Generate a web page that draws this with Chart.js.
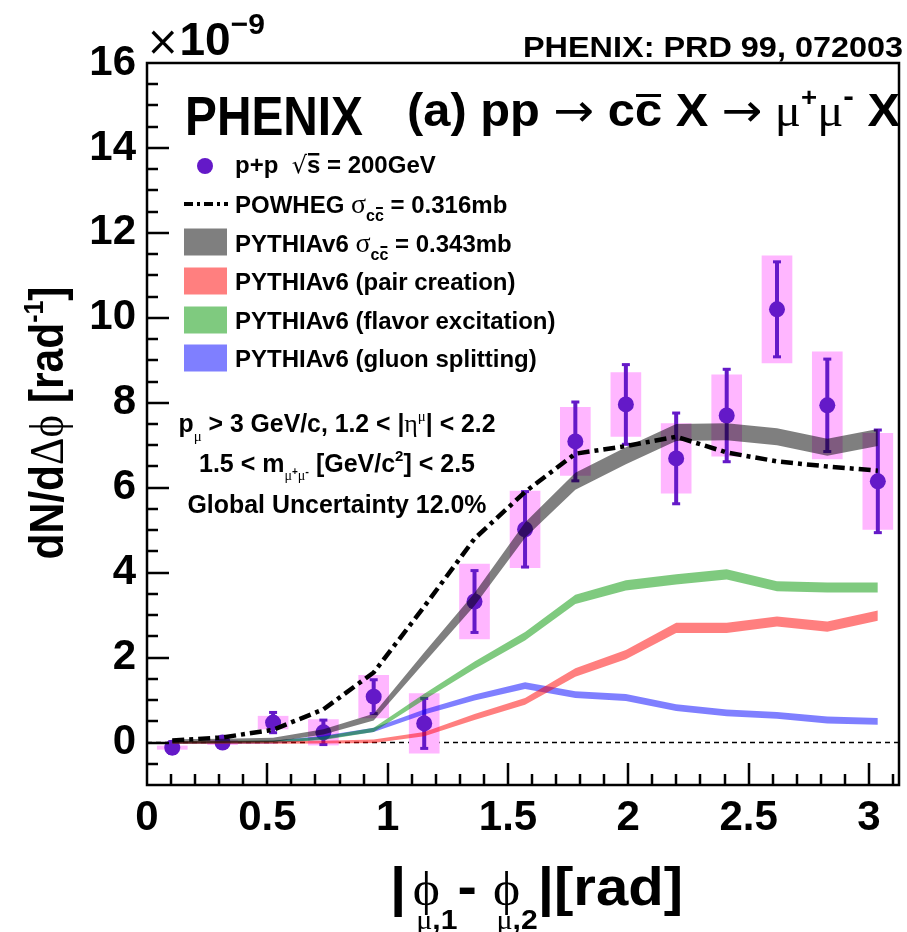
<!DOCTYPE html>
<html>
<head>
<meta charset="utf-8">
<title>PHENIX dN/dDphi</title>
<script src="https://cdn.jsdelivr.net/npm/chart.js@4.4.1/dist/chart.umd.min.js"></script>
<style>
  html, body { margin: 0; padding: 0; background: #fff; }
  #wrap { width: 907px; height: 932px; }
</style>
</head>
<body>
<div id="wrap"><canvas id="myChart" width="907" height="932"></canvas></div>
<script>
'use strict';

// Data (units of 1e-9 rad^-1)

let binCenters = [0.105, 0.314, 0.524, 0.733, 0.942, 1.152, 1.361, 1.571, 1.780, 1.990, 2.199, 2.409, 2.618, 2.827, 3.037];

let dataY   = [-0.12, 0.0, 0.47, 0.24, 1.08, 0.45, 3.32, 5.02, 7.09, 7.96, 6.69, 7.70, 10.2, 7.94, 6.15];
let statErr = [0.15, 0.05, 0.25, 0.30, 0.41, 0.60, 0.74, 0.90, 0.94, 0.95, 1.08, 1.10, 1.13, 1.10, 1.22];
let systErr = [0.04, 0.05, 0.15, 0.30, 0.50, 0.70, 0.88, 0.90, 0.80, 0.75, 0.82, 0.96, 1.26, 1.26, 1.13];

let powheg = [0.05, 0.12, 0.30, 0.78, 1.65, 3.20, 4.80, 5.90, 6.80, 6.98, 7.20, 6.83, 6.62, 6.50, 6.40];

let pythiaTotal    = [0.03, 0.04, 0.06, 0.25, 0.60, 2.00, 3.37, 5.00, 6.15, 6.75, 7.30, 7.32, 7.20, 6.95, 7.18];
let pythiaTotalErr = [0.05, 0.05, 0.05, 0.06, 0.08, 0.12, 0.15, 0.18, 0.20, 0.20, 0.20, 0.20, 0.20, 0.20, 0.20];

let pairCreation    = [0.0, 0.0, 0.0, 0.01, 0.03, 0.20, 0.60, 0.97, 1.65, 2.07, 2.70, 2.70, 2.85, 2.73, 2.99];
let pairCreationErr = [0.03, 0.03, 0.03, 0.03, 0.04, 0.05, 0.07, 0.08, 0.10, 0.11, 0.12, 0.12, 0.12, 0.12, 0.12];

let flavorExcitation    = [0.0, 0.01, 0.02, 0.10, 0.30, 1.08, 1.82, 2.50, 3.37, 3.70, 3.84, 3.96, 3.68, 3.65, 3.65];
let flavorExcitationErr = [0.03, 0.03, 0.03, 0.04, 0.05, 0.07, 0.09, 0.10, 0.11, 0.12, 0.12, 0.12, 0.12, 0.12, 0.12];

let gluonSplitting    = [0.0, 0.0, 0.01, 0.12, 0.30, 0.72, 1.06, 1.34, 1.13, 1.06, 0.82, 0.70, 0.64, 0.53, 0.50];
let gluonSplittingErr = [0.03, 0.03, 0.03, 0.04, 0.05, 0.06, 0.07, 0.08, 0.08, 0.08, 0.08, 0.08, 0.08, 0.08, 0.08];

let xMin = 0;
let xMax = 3.125;
let yMin = -1;
let yMax = 16;

// Colours

let purple = '#6419c8';
let pink = '#ffb6ff';
let grayBand = 'rgba(0, 0, 0, 0.5)';
let redBand = 'rgba(255, 0, 0, 0.5)';
let greenBand = 'rgba(0, 150, 0, 0.5)';
let blueBand = 'rgba(0, 0, 255, 0.5)';

const SANS = '"Liberation Sans", Arial, Helvetica, sans-serif';
const SERIF = '"Liberation Serif", "DejaVu Serif", serif';
const SYM = '"DejaVu Sans", sans-serif';

function fnt(size, bold, fam) {
  return (bold ? 'bold ' : '') + size + 'px ' + (fam || SANS);
}

function pts(arr) {
  return binCenters.map((x, i) => ({ x: x, y: arr[i] }));
}

function shifted(arr, err, sign) {
  return binCenters.map((x, i) => ({ x: x, y: arr[i] + sign * err[i] }));
}

// a band = lower edge + upper edge filled to the previous dataset
function band(label, arr, err, color, order) {
  return [
    { label: label + ' lo', data: shifted(arr, err, -1), borderWidth: 0, pointRadius: 0, fill: false, order: order },
    { label: label, data: shifted(arr, err, 1), borderWidth: 0, pointRadius: 0, fill: '-1', backgroundColor: color, order: order }
  ];
}

// Rich text drawing (sub/superscripts, overlines)

function drawRich(ctx, segs, x, y, opts) {
  opts = opts || {};
  let total = 0;
  let widths = [];
  for (let s of segs) {
    ctx.font = s.font;
    let w = ctx.measureText(s.text).width;
    widths.push(w);
    total += w + (s.dx || 0);
  }
  let sx = opts.width ? opts.width / total : 1;
  ctx.save();
  ctx.translate(x, y);
  if (opts.rotate) ctx.rotate(opts.rotate);
  let start = 0;
  if (opts.align === 'center') start = -total * sx / 2;
  else if (opts.align === 'right') start = -total * sx;
  ctx.translate(start, 0);
  ctx.scale(sx, 1);
  ctx.fillStyle = '#000';
  ctx.strokeStyle = '#000';
  ctx.textBaseline = 'alphabetic';
  ctx.textAlign = 'left';
  let cx = 0;
  segs.forEach((s, i) => {
    cx += s.dx || 0;
    ctx.font = s.font;
    let dy = s.dy || 0;
    ctx.fillText(s.text, cx, dy);
    if (s.ol !== undefined) {
      ctx.fillRect(cx + 1, dy + s.ol, widths[i] - 2, s.olw || 2.5);
    }
    cx += widths[i];
  });
  ctx.restore();
}

// Texts

let b24 = fnt(24, true);
let b25 = fnt(25, true);

let legendRows = [
  [{ text: 'p+p  ', font: b24 }, { text: '\u221A', font: fnt(24, false, SYM) }, { text: 's', font: b24, ol: -20 }, { text: ' = 200GeV', font: b24 }],
  [{ text: 'POWHEG ', font: b24 }, { text: '\u03C3', font: fnt(28, false, SERIF) }, { text: 'c', font: fnt(16, true), dy: 8 }, { text: 'c', font: fnt(16, true), dy: 8, ol: -14, olw: 2 }, { text: ' = 0.316mb', font: b24 }],
  [{ text: 'PYTHIAv6 ', font: b24 }, { text: '\u03C3', font: fnt(28, false, SERIF) }, { text: 'c', font: fnt(16, true), dy: 8 }, { text: 'c', font: fnt(16, true), dy: 8, ol: -14, olw: 2 }, { text: ' = 0.343mb', font: b24 }],
  [{ text: 'PYTHIAv6 (pair creation)', font: b24 }],
  [{ text: 'PYTHIAv6 (flavor excitation)', font: b24 }],
  [{ text: 'PYTHIAv6 (gluon splitting)', font: b24 }]
];
let legendBaselines = [173, 213, 252, 290, 329, 367];
let legendCenters = [166, 204, 242, 281, 320, 358];
let legendColors = [null, null, grayBand, redBand, greenBand, blueBand];

const textPlugin = {
  id: 'textPlugin',
  afterDraw(chart) {
    const ctx = chart.ctx;
    const a = chart.chartArea;
    const xs = chart.scales.x;
    const ys = chart.scales.y;

    // inner ticks + frame
    ctx.save();
    ctx.strokeStyle = '#000';
    ctx.lineWidth = 2.5;
    ctx.beginPath();
    for (let k = -1; k <= 32; k++) {
      let v = k / 2;
      if (v <= yMin || v >= yMax) continue;
      let py = Math.round(ys.getPixelForValue(v));
      let len = (k % 4 === 0) ? 22 : 11;
      ctx.moveTo(a.left, py);
      ctx.lineTo(a.left + len, py);
    }
    for (let k = 1; k <= 31; k++) {
      let v = k / 10;
      let px = Math.round(xs.getPixelForValue(v));
      let len = (k % 5 === 0) ? 22 : 11;
      ctx.moveTo(px, a.bottom);
      ctx.lineTo(px, a.bottom - len);
    }
    ctx.stroke();
    ctx.lineWidth = 2.5;
    ctx.strokeRect(a.left, a.top, a.right - a.left, a.bottom - a.top);
    ctx.restore();

    // exponent and reference
    drawRich(ctx, [
      { text: '\u00D7', font: fnt(40, false, SYM) },
      { text: '10', font: fnt(46, true) },
      { text: '\u22129', font: fnt(30, true), dy: -21 }
    ], 146, 55);
    drawRich(ctx, [{ text: 'PHENIX: PRD 99, 072003', font: fnt(30, true) }], 903, 57, { align: 'right', width: 380 });

    // big title
    drawRich(ctx, [{ text: 'PHENIX', font: fnt(56, true) }], 185, 135, { width: 178 });
    let b46 = fnt(46, true);
    drawRich(ctx, [
      { text: '(a) pp ', font: b46 },
      { text: '\u2192', font: fnt(46, false, SYM) },
      { text: ' c', font: b46 },
      { text: 'c', font: b46, ol: -32, olw: 3 },
      { text: ' X ', font: b46 },
      { text: '\u2192', font: fnt(46, false, SYM) },
      { text: ' \u03BC', font: fnt(46, false, SERIF) },
      { text: '+', font: fnt(26, true), dy: -20 },
      { text: '\u03BC', font: fnt(46, false, SERIF) },
      { text: '-', font: fnt(30, true), dy: -20 },
      { text: ' X', font: b46 }
    ], 407, 126, { width: 493 });

    // legend
    ctx.save();
    legendRows.forEach((segs, i) => {
      let cy = legendCenters[i];
      if (i === 0) {
        ctx.fillStyle = purple;
        ctx.beginPath();
        ctx.arc(205, cy, 8, 0, Math.PI * 2);
        ctx.fill();
      } else if (i === 1) {
        ctx.strokeStyle = '#000';
        ctx.lineWidth = 4;
        ctx.setLineDash([9, 4, 3, 4]);
        ctx.beginPath();
        ctx.moveTo(184, cy);
        ctx.lineTo(228, cy);
        ctx.stroke();
        ctx.setLineDash([]);
      } else {
        ctx.fillStyle = legendColors[i];
        ctx.fillRect(184, cy - 13.5, 43, 27);
      }
      drawRich(ctx, segs, 235, legendBaselines[i]);
    });
    ctx.restore();

    // cuts
    drawRich(ctx, [
      { text: 'p', font: b25 },
      { text: '\u03BC', font: fnt(15, false, SERIF), dy: 9 },
      { text: ' > 3 GeV/c, 1.2 < |', font: b25 },
      { text: '\u03B7', font: fnt(26, false, SERIF) },
      { text: '\u03BC', font: fnt(15, false, SERIF), dy: -11 },
      { text: '| < 2.2', font: b25 }
    ], 337, 432, { align: 'center', width: 317 });
    drawRich(ctx, [
      { text: '1.5 < m', font: b25 },
      { text: '\u03BC', font: fnt(14, false, SERIF), dy: 8 },
      { text: '+', font: fnt(10, true), dy: 3 },
      { text: '\u03BC', font: fnt(14, false, SERIF), dy: 8 },
      { text: '-', font: fnt(11, true), dy: 3 },
      { text: ' [GeV/c', font: b25 },
      { text: '2', font: fnt(15, true), dy: -11 },
      { text: '] < 2.5', font: b25 }
    ], 337, 472, { align: 'center', width: 276 });
    drawRich(ctx, [{ text: 'Global Uncertainty 12.0%', font: b25 }], 337, 513, { align: 'center', width: 299 });

    // axis titles
    let b54 = fnt(54, true);
    drawRich(ctx, [
      { text: '|', font: b54 },
      { text: '\u03D5', font: fnt(48, false, SERIF), dx: 6 },
      { text: '\u03BC', font: fnt(28, false, SERIF), dy: 24, dx: -22 },
      { text: ',1', font: fnt(28, true), dy: 24 },
      { text: '- ', font: b54 },
      { text: '\u03D5', font: fnt(48, false, SERIF) },
      { text: '\u03BC', font: fnt(28, false, SERIF), dy: 24, dx: -22 },
      { text: ',2', font: fnt(28, true), dy: 24 },
      { text: '|[rad]', font: b54 }
    ], 390, 905, { width: 293 });

    drawRich(ctx, [
      { text: 'dN/d', font: fnt(48, true) },
      { text: '\u0394\u03D5', font: fnt(48, false, SERIF) },
      { text: ' [rad', font: fnt(48, true) },
      { text: '-1', font: fnt(28, true), dy: -20 },
      { text: ']', font: fnt(48, true) }
    ], 63, 423, { align: 'center', width: 273, rotate: -Math.PI / 2 });
  }
};

// statistical error bars, drawn right after the systematic boxes
const errorBarPlugin = {
  id: 'errorBars',
  afterDatasetDraw(chart, args) {
    if (chart.data.datasets[args.index].label !== 'syst') return;
    const ctx = chart.ctx;
    const xs = chart.scales.x;
    const ys = chart.scales.y;
    ctx.save();
    ctx.strokeStyle = purple;
    ctx.fillStyle = purple;
    ctx.lineWidth = 4;
    for (let i = 0; i < binCenters.length; i++) {
      let px = xs.getPixelForValue(binCenters[i]);
      let top = ys.getPixelForValue(dataY[i] + statErr[i]);
      let bot = ys.getPixelForValue(dataY[i] - statErr[i]);
      ctx.beginPath();
      ctx.moveTo(px, top);
      ctx.lineTo(px, bot);
      ctx.stroke();
      ctx.fillRect(px - 4, top - 1, 8, 3);
      ctx.fillRect(px - 4, bot - 2, 8, 3);
    }
    ctx.restore();
  }
};

let datasets = [
  {
    label: 'POWHEG',
    data: pts(powheg),
    borderColor: '#000',
    borderWidth: 4.5,
    borderDash: [12, 5, 4, 5],
    pointRadius: 0,
    fill: false,
    order: 0
  }
]
  .concat(band('PYTHIAv6 total', pythiaTotal, pythiaTotalErr, grayBand, 1))
  .concat(band('pair creation', pairCreation, pairCreationErr, redBand, 2))
  .concat(band('flavor excitation', flavorExcitation, flavorExcitationErr, greenBand, 3))
  .concat(band('gluon splitting', gluonSplitting, gluonSplittingErr, blueBand, 4))
  .concat([
    {
      label: 'p+p',
      data: pts(dataY),
      showLine: false,
      pointRadius: 8,
      pointHoverRadius: 8,
      pointBackgroundColor: purple,
      pointBorderWidth: 0,
      order: 20
    },
    {
      type: 'bar',
      label: 'syst',
      data: binCenters.map((x, i) => ({ x: x, y: [dataY[i] - systErr[i], dataY[i] + systErr[i]] })),
      backgroundColor: pink,
      borderWidth: 0,
      barThickness: 30,
      grouped: false,
      order: 21
    },
    {
      label: 'zero',
      data: [{ x: xMin, y: 0 }, { x: xMax, y: 0 }],
      borderColor: '#000',
      borderWidth: 1.5,
      borderDash: [5, 4],
      pointRadius: 0,
      fill: false,
      order: 22
    }
  ]);

Chart.defaults.font.family = SANS;
Chart.defaults.color = '#000';

const ctx = document.getElementById('myChart').getContext('2d');
const myChart = new Chart(ctx, {
  type: 'line',
  data: { datasets: datasets },
  options: {
    responsive: false,
    animation: false,
    devicePixelRatio: 1,
    layout: { padding: { top: 63, right: 4, left: 0, bottom: 0 } },
    elements: { line: { tension: 0 } },
    plugins: {
      legend: { display: false },
      tooltip: { enabled: false },
      filler: { propagate: false }
    },
    scales: {
      x: {
        type: 'linear',
        min: xMin,
        max: xMax,
        offset: false,
        grid: { display: false, drawTicks: false },
        border: { display: false },
        ticks: {
          stepSize: 0.5,
          includeBounds: false,
          padding: 8,
          maxRotation: 0,
          font: { size: 42, weight: 'bold' },
          callback: (v) => String(Math.round(v * 10) / 10)
        },
        afterFit: (scale) => { scale.height = 147; }
      },
      y: {
        type: 'linear',
        min: yMin,
        max: yMax,
        grid: { display: false, drawTicks: false },
        border: { display: false },
        ticks: {
          stepSize: 2,
          includeBounds: false,
          padding: 11,
          font: { size: 42, weight: 'bold' },
          callback: (v) => String(v)
        },
        afterFit: (scale) => { scale.width = 147; }
      }
    }
  },
  plugins: [errorBarPlugin, textPlugin]
});
</script>
</body>
</html>
